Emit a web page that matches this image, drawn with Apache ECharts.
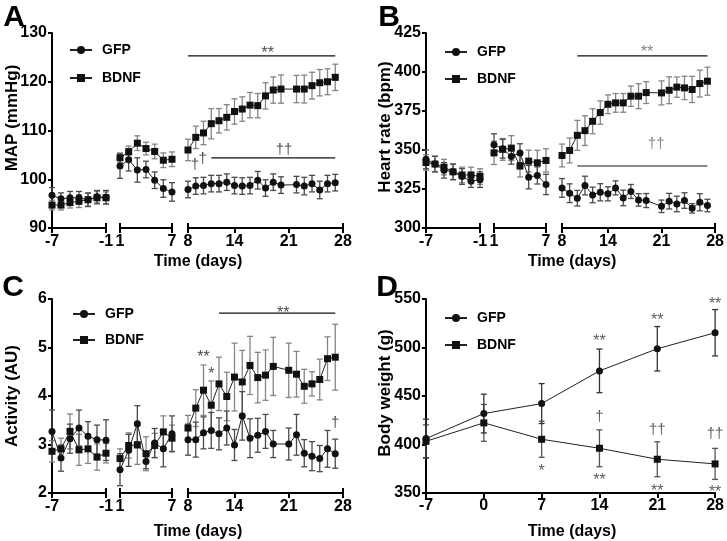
<!DOCTYPE html>
<html><head><meta charset="utf-8">
<script src="https://cdn.jsdelivr.net/npm/echarts@6/dist/echarts.min.js"></script>
<style>html,body{margin:0;padding:0;background:#fff}#c{width:727px;height:541px}</style>
</head><body><div id="c"></div>
<script>
// ---------- DATA ----------
const seg1Days = [-7,-6,-5,-4,-3,-2,-1];
const seg2Days = [1,2,3,4,5,6,7];
const seg3DaysA = [8,9,10,11,12,13,14,15,16,17,18,19,20,22,23,24,25,26,27];
const seg3DaysBC = [8,9,10,11,12,13,14,15,16,17,18,19,21,22,23,24,25,26,27];
const dDays = [-7,0,7,14,21,28];

// A: MAP (mmHg)
const mapGfp1 = [96.7,96.0,96.2,96.2,95.8,96.4,96.3];
const mapGfp1Err = [1.6,1.2,1.3,1.3,1.4,1.3,1.4];
const mapBdnf1 = [94.7,94.7,95.2,95.5,95.8,96.2,96.2];
const mapBdnf1Err = [1.0,1.0,1.1,1.3,1.3,1.3,1.2];
const mapGfp2 = [102.7,104.0,101.9,102.0,99.8,98.1,97.4];
const mapGfp2Err = [2.5,2.3,2.5,1.7,1.7,1.8,1.9];
const mapBdnf2 = [104.4,105.6,107.4,106.3,105.7,103.9,104.1];
const mapBdnf2Err = [1.0,1.2,1.5,1.3,1.5,1.5,1.5];
const mapGfp3 = [97.9,98.6,98.7,99.1,99.1,99.4,98.7,98.6,98.7,99.8,98.2,99.4,98.8,98.9,98.6,99.1,97.8,99.1,99.3];
const mapGfp3Err = [1.7,1.7,1.7,1.7,1.7,1.7,1.7,1.7,1.7,1.8,1.7,1.7,1.7,1.7,1.8,1.7,1.8,1.7,1.7];
const mapBdnf3 = [106.0,108.6,109.5,111.4,112.0,112.7,113.9,114.4,115.2,115.1,117.1,118.3,118.5,118.5,118.5,119.2,119.8,120.0,120.9];
const mapBdnf3Err = [2.2,2.3,2.4,3.1,2.5,2.6,2.6,2.5,2.6,2.5,2.7,2.7,2.9,2.8,2.85,2.75,2.7,2.65,2.7];

// B: Heart rate (bpm)
const hrGfp1 = [344,341,337,336,333,330,331];
const hrGfp1Err = [6,5,5,5,5,4,5];
const hrBdnf1 = [342,341,339,336,334,334,333];
const hrBdnf1Err = [5,5,5,5,5,5,5];
const hrGfp2 = [353.4,350.8,345.9,348.0,332.6,333.7,327.9];
const hrGfp2Err = [7,6,5,6,7.5,5.5,6.5];
const hrBdnf2 = [348.2,350.4,351.2,339.7,342.9,341.8,343.3];
const hrBdnf2Err = [7.5,7,8,7,7,8,7.5];
const hrGfp3 = [325.7,322.3,319.1,327.2,321.2,322.9,321.9,325.7,319.3,323.4,318.0,317.6,313.9,317.2,315.4,317.6,312.6,316.5,314.4];
const hrGfp3Err = [6,6,5,6,5,5.5,4.5,4.5,5,4.5,4,4.5,4,5,5,5,3,5.5,4];
const hrBdnf3 = [346.5,349.7,359.4,362.4,368.4,374.0,379.3,380.2,380.2,384.5,384.5,386.8,386.6,388.3,390.3,389.8,388.8,392.6,394.1];
const hrBdnf3Err = [7.3,8,9.6,9.5,8,7.5,6,6,6,6.5,8,7,7.7,8.6,6.5,7.5,8.4,8.6,9];

// C: Activity (AU)
const actGfp1 = [3.27,2.72,3.12,3.34,3.17,3.10,3.09];
const actGfp1Err = [0.44,0.27,0.3,0.37,0.3,0.3,0.42];
const actBdnf1 = [2.86,2.91,3.27,2.89,2.91,2.74,2.82];
const actBdnf1Err = [0.22,0.22,0.36,0.32,0.3,0.27,0.2];
const actGfp2 = [2.48,2.88,3.43,2.65,3.03,2.91,3.22];
const actGfp2Err = [0.33,0.33,0.37,0.15,0.3,0.37,0.37];
const actBdnf2 = [2.71,2.98,2.99,2.81,2.98,3.26,3.13];
const actBdnf2Err = [0.2,0.26,0.4,0.35,0.25,0.33,0.27];
const actGfp3 = [3.10,3.10,3.24,3.29,3.22,3.34,2.99,3.59,3.13,3.19,3.27,3.01,3.01,3.20,2.82,2.76,2.71,2.91,2.81];
const actGfp3Err = [0.32,0.36,0.33,0.37,0.33,0.35,0.32,0.5,0.4,0.35,0.35,0.28,0.33,0.42,0.28,0.3,0.27,0.38,0.3];
const actBdnf3 = [3.34,3.75,4.12,3.81,4.25,3.99,4.39,4.29,4.63,4.38,4.43,4.61,4.53,4.45,4.20,4.25,4.34,4.77,4.80];
const actBdnf3Err = [0.26,0.38,0.52,0.5,0.55,0.5,0.7,0.65,0.6,0.52,0.52,0.6,0.56,0.47,0.35,0.25,0.42,0.45,0.68];

// D: Body weight (g)
const bwGfp = [406.1,431.9,442.2,475.9,498.7,515.2];
const bwGfpErr = [20,20,20.6,22.5,22.9,23.9];
const bwBdnf = [403.3,422.3,405.4,396.1,384.8,380.0];
const bwBdnfErr = [17,19,18.6,19,18,16];

// tick labels
const seg1Ticks = [-7,-1];
const seg2Ticks = [1,7];
const seg3Ticks = [8,14,21,28];

// significance bars [x1, x2, y] and marks [text, x, y]
const sigLinesA = [[8,27,125.3],[11,27,104.4]];
const sigTextA = [['**',18.3,126.8],['††',20.4,106.0],['†',8.9,102.85],['†',9.9,104.2]];
const sigLinesB = [[10,27,410.4]];
const sigLinesBGray = [[10,27,339.7]];
const sigTextB = [['**',19.1,415.6],['††',20.3,354]];
const sigLinesC = [[12,27,5.71]];
const sigTextC = [['**',20.3,5.81],['**',10.0,4.89],['*',11.0,4.54],['†',27,3.44]];
const sigTextD = [['**',14,511],['**',21,533.4],['**',28,548.9],['*',7,376.8],['**',14,368.2],['**',21,357],['**',28,355.5],['†',14,429],['††',21,414.7],['††',28,411.3]];

// ---------- BUILD ----------
const FONT = "'Liberation Sans', Arial, sans-serif";
const zip = (xs, ys) => xs.map((x,i)=>[x, ys[i]]);
const zip3 = (xs, ys, es) => xs.map((x,i)=>[x, ys[i], es[i]]);

function errRender(color){
  return function(params, api){
    const x = api.value(0), y = api.value(1), e = api.value(2);
    const t = api.coord([x, y+e]), b = api.coord([x, y-e]);
    const w = 3;
    const st = {stroke: color, lineWidth: 1.3};
    return {type:'group', children:[
      {type:'line', shape:{x1:t[0],y1:t[1],x2:b[0],y2:b[1]}, style:st},
      {type:'line', shape:{x1:t[0]-w,y1:t[1],x2:t[0]+w,y2:t[1]}, style:st},
      {type:'line', shape:{x1:b[0]-w,y1:b[1],x2:b[0]+w,y2:b[1]}, style:st}
    ]};
  };
}

const grids = [], xAxes = [], xAxes2 = [], yAxes = [], series = [];
const GFP_ERR = '#4a4a4a', BDNF_ERR = '#858585';

function axisLabelStyle(extra){
  return Object.assign({color:'#000', fontSize:16, fontWeight:'bold', fontFamily:FONT}, extra||{});
}

function addLine(name, sym, data, xi){
  series.push({type:'line', name, xAxisIndex:xi, yAxisIndex:xi, data, symbol:sym, symbolSize:7,
    itemStyle:{color:'#111'}, lineStyle:{color:'#222', width:1}, z:5, animation:false});
}
function addErr(data, color, xi){
  series.push({type:'custom', name:'err', xAxisIndex:xi, yAxisIndex:xi, data, renderItem:errRender(color), z:3, animation:false, silent:true});
}
function addSigLines(lines, xi, color, width){
  lines.forEach(l=>{
    series.push({type:'line', name:'sig', xAxisIndex:xi, yAxisIndex:xi, data:[[l[0],l[2]],[l[1],l[2]]],
      symbol:'none', lineStyle:{color, width}, silent:true, animation:false, z:2});
  });
}
function addSigText(texts, xi, color){
  series.push({type:'scatter', name:'sigt', xAxisIndex:xi, yAxisIndex:xi, symbolSize:1, silent:true, animation:false,
    itemStyle:{color:'rgba(0,0,0,0)'}, clip:false, z:6,
    data: texts.map(t=>{
      const star = t[0].indexOf('*')>=0;
      return {value:[t[1],t[2]], label:{formatter:t[0], fontSize: star ? 16 : 15, offset: star ? [0,5] : [0,0]}};
    }),
    label:{show:true, position:'inside', fontSize:15, color, fontFamily:FONT}});
}

const segs = [
  {min:-7, max:-1, off:0, w:54, ticks:seg1Ticks, inner:[-1]},
  {min:1, max:7, off:68, w:52, ticks:seg2Ticks, inner:[1,7]},
  {min:8, max:28, off:136, w:155, ticks:seg3Ticks, inner:[8,28]}
];

const panels = [
  {left:52, top:33, h:195, yMin:90, yMax:130, yInt:10, days3:seg3DaysA,
    g:[[mapGfp1,mapGfp1Err],[mapGfp2,mapGfp2Err],[mapGfp3,mapGfp3Err]],
    b:[[mapBdnf1,mapBdnf1Err],[mapBdnf2,mapBdnf2Err],[mapBdnf3,mapBdnf3Err]]},
  {left:426, top:33, h:195, yMin:300, yMax:425, yInt:25, days3:seg3DaysBC,
    g:[[hrGfp1,hrGfp1Err],[hrGfp2,hrGfp2Err],[hrGfp3,hrGfp3Err]],
    b:[[hrBdnf1,hrBdnf1Err],[hrBdnf2,hrBdnf2Err],[hrBdnf3,hrBdnf3Err]]},
  {left:52, top:299, h:194, yMin:2, yMax:6, yInt:1, days3:seg3DaysBC,
    g:[[actGfp1,actGfp1Err],[actGfp2,actGfp2Err],[actGfp3,actGfp3Err]],
    b:[[actBdnf1,actBdnf1Err],[actBdnf2,actBdnf2Err],[actBdnf3,actBdnf3Err]]}
];

panels.forEach((p, pi)=>{
  segs.forEach((s, si)=>{
    const gi = pi*3+si;
    grids.push({left:p.left+s.off, top:p.top, width:s.w, height:p.h});
    xAxes.push({gridIndex:gi, type:'value', min:s.min, max:s.max,
      axisLine:{show:true, onZero:false, lineStyle:{color:'#000', width:2}},
      axisTick:{show:true, length:5, customValues:s.ticks, lineStyle:{color:'#000', width:2}},
      axisLabel:axisLabelStyle({customValues:s.ticks, margin:6}),
      splitLine:{show:false}});
    xAxes2.push({gridIndex:gi, type:'value', min:s.min, max:s.max, position:'bottom',
      axisLine:{show:false, onZero:false}, axisLabel:{show:false}, splitLine:{show:false},
      axisTick:{show:true, inside:true, length:5, customValues:s.inner, lineStyle:{color:'#000', width:2}}});
    yAxes.push({gridIndex:gi, type:'value', min:p.yMin, max:p.yMax, interval:p.yInt, show: si===0,
      axisLine:{show:true, onZero:false, lineStyle:{color:'#000', width:2}},
      axisTick:{show:true, length:4, lineStyle:{color:'#000', width:2}},
      axisLabel:axisLabelStyle({margin:5}), splitLine:{show:false}});
    const days = si===0 ? seg1Days : si===1 ? seg2Days : p.days3;
    addErr(zip3(days, p.b[si][0], p.b[si][1]), BDNF_ERR, gi);
    addErr(zip3(days, p.g[si][0], p.g[si][1]), GFP_ERR, gi);
    addLine('GFP', 'circle', zip(days, p.g[si][0]), gi);
    addLine('BDNF', 'rect', zip(days, p.b[si][0]), gi);
  });
});

// Panel D
grids.push({left:426, top:299, width:291, height:194});
xAxes.push({gridIndex:9, type:'value', min:-7, max:28, interval:7,
  axisLine:{show:true, onZero:false, lineStyle:{color:'#000', width:2}},
  axisTick:{show:true, length:5, lineStyle:{color:'#000', width:2}},
  axisLabel:axisLabelStyle({margin:5}), splitLine:{show:false}});
yAxes.push({gridIndex:9, type:'value', min:350, max:550, interval:50,
  axisLine:{show:true, onZero:false, lineStyle:{color:'#000', width:2}},
  axisTick:{show:true, length:4, lineStyle:{color:'#000', width:2}},
  axisLabel:axisLabelStyle({margin:5}), splitLine:{show:false}});
addErr(zip3(dDays, bwBdnf, bwBdnfErr), '#555', 9);
addErr(zip3(dDays, bwGfp, bwGfpErr), '#333', 9);
addLine('GFP', 'circle', zip(dDays, bwGfp), 9);
addLine('BDNF', 'rect', zip(dDays, bwBdnf), 9);

// significance annotations
addSigLines(sigLinesA, 2, '#111', 1.3);
addSigText(sigTextA, 2, '#222');
addSigLines(sigLinesB, 5, '#111', 1.3);
addSigLines(sigLinesBGray, 5, '#8a8a8a', 2);
addSigText(sigTextB, 5, '#666');
addSigLines(sigLinesC, 8, '#111', 1.3);
addSigText(sigTextC, 8, '#222');
addSigText(sigTextD, 9, '#333');

// secondary tick axes go after the main ones
const allX = xAxes.concat(xAxes2);

function legendAt(left, top, gap){
  return {left, top, orient:'vertical', data:['GFP','BDNF'], itemWidth:22, itemHeight:10, itemGap:gap,
    selectedMode:false, textStyle:{color:'#000', fontSize:14, fontWeight:'bold', fontFamily:FONT, padding:[0,0,0,5]}};
}

function txt(text, x, y, size, rot){
  return {type:'text', x, y, rotation: rot||0,
    style:{text, fill:'#000', font:'bold '+size+'px '+FONT, textAlign:'center', textVerticalAlign:'middle'}};
}

const option = {
  animation:false,
  backgroundColor:'#fff',
  grid: grids,
  xAxis: allX,
  yAxis: yAxes,
  legend: [legendAt(64,38,14), legendAt(439,40,13), legendAt(67,302,12), legendAt(439,306,13)],
  series,
  graphic: [
    txt('A', 14, 18, 30), txt('B', 389, 18, 30), txt('C', 13, 288, 30), txt('D', 387, 288, 30),
    txt('Time (days)', 198, 262, 16), txt('Time (days)', 572, 262, 16),
    txt('Time (days)', 198, 532, 16), txt('Time (days)', 572, 532, 16),
    txt('MAP (mmHg)', 12, 118, 17, Math.PI/2), txt('Heart rate (bpm)', 385, 127, 17, Math.PI/2),
    txt('Activity (AU)', 12, 396, 17, Math.PI/2), txt('Body weight (g)', 385, 393, 17, Math.PI/2)
  ]
};

const chart = echarts.init(document.getElementById('c'), null, {renderer:'canvas'});
chart.setOption(option);
</script>
</body></html>
